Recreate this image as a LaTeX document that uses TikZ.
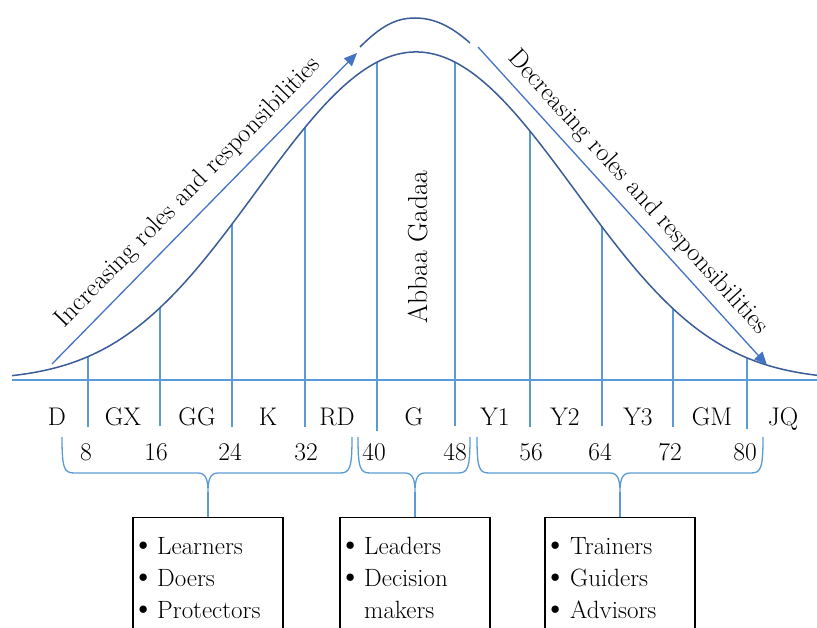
\documentclass[tikz,border=0pt]{standalone}
\usepackage{fontspec}
\setmainfont{Latin Modern Roman}
\usetikzlibrary{arrows.meta}
\definecolor{gridblue}{RGB}{91,155,213}
\definecolor{curveblue}{RGB}{58,92,152}
\definecolor{arrowblue}{RGB}{68,114,196}
% a bullet sized like the list marks of the role boxes
\newcommand{\rolebullet}{\makebox[8pt][c]{\fontsize{33}{32}\selectfont\textbullet}}
\begin{document}
\begin{tikzpicture}[x=1pt,y=-1pt,
  declare function={bell(\q)=380-328*exp(-0.5*((\q-416)/155)^2-0.02*((\q-416)/155)^4);},
  grid/.style={gridblue, line width=1.6pt},
  bellcurve/.style={curveblue, line width=1.5pt},
  trend/.style={arrowblue, line width=1.3pt, -{Triangle[length=13pt,width=11pt]}},
  lbl/.style={font=\fontsize{25.5}{30}\selectfont, inner sep=0pt, anchor=base},
  slantlbl/.style={font=\fontsize{26}{30}\selectfont, inner sep=0pt, anchor=base},
  brace/.style={gridblue, line width=1.3pt},
  rolebox/.style={draw=black, line width=1.1pt, minimum width=150pt, minimum height=140pt, anchor=north, inner sep=0pt},
  roletext/.style={font=\fontsize{25}{32}\selectfont, inner sep=0pt, anchor=base west}
]
\useasboundingbox (0,0) rectangle (817,628);
\clip (0,0) rectangle (817,628);

% axis and age-grade dividers
\draw[grid, line width=1.4pt] (12,380) -- (817,380);
\foreach \xx/\yb in {88/427,160/426,232/427,305/427,377/431,455/426,530/427,602/426,673/427,747/429}
  \draw[grid] (\xx,\yb) -- (\xx,{bell(\xx)});

% bell curve and the cap above its peak
\draw[bellcurve] plot[domain=12:817, samples=160, smooth] (\x,{bell(\x)});
\draw[bellcurve] (360,47) .. controls (380,27) and (395,18) .. (415,18)
  .. controls (435,18) and (452,27) .. (470,43);

% trend arrows
\coordinate (incS) at (52,364);
\coordinate (incE) at (357,53);
\coordinate (decS) at (478,47);
\coordinate (decE) at (767,365);
\draw[trend] (incS) -- (incE);
\draw[trend] (decS) -- (decE);
\node[slantlbl, rotate=45.6] (inc) at (193,197) {Increasing roles and responsibilities};
\node[slantlbl, rotate=-47.7] (dec) at (633,197) {Decreasing roles and responsibilities};
\node[font=\fontsize{27.5}{30}\selectfont, inner sep=0pt, anchor=base, rotate=90] (abba) at (427,247) {Abbaa Gadaa};

% grade names
\foreach \xx/\nm in {57/D,123/GX,197/GG,268/K,337/RD,414/G,495/Y1,565/Y2,638/Y3,712/GM,783/JQ}
  \node[lbl] (g\nm) at (\xx,425) {\nm};
% ages
\foreach \xx/\ag in {86/8,156/16,230/24,306/32,374/40,455/48,531/56,600/64,670/72,745/80}
  \node[lbl] (a\ag) at (\xx,460) {\ag};

% braces grouping the grades
\foreach \xl/\xm/\xr/\k in {62/208/352/1,358/415/470/2,477/620/763/3}{
  \draw[brace] (\xl,437) .. controls (\xl,468) and (\xl+2,473) .. (\xl+12,473)
    -- (\xm-10,473) .. controls (\xm-2,473) and (\xm,480) .. (\xm,492)
    .. controls (\xm,480) and (\xm+2,473) .. (\xm+10,473)
    -- (\xr-12,473) .. controls (\xr-2,473) and (\xr,468) .. (\xr,437);
  \coordinate (tip\k) at (\xm,492);
}

% role boxes
\node[rolebox] (box1) at (208,517) {};
\node[rolebox] (box2) at (415,517) {};
\node[rolebox] (box3) at (620,517) {};
\draw[brace] (tip1) -- (box1.north);
\draw[brace] (tip2) -- (box2.north);
\draw[brace] (tip3) -- (box3.north);

\node[roletext] (r1) at (139,554) {\begin{tabular}[t]{@{}l@{\hspace{10pt}}l@{}}\rolebullet & Learners\\ \rolebullet & Doers\\ \rolebullet & Protectors\end{tabular}};
\node[roletext] (r2) at (346,554) {\begin{tabular}[t]{@{}l@{\hspace{10pt}}l@{}}\rolebullet & Leaders\\ \rolebullet & Decision\\ & makers\end{tabular}};
\node[roletext] (r3) at (551,554) {\begin{tabular}[t]{@{}l@{\hspace{11pt}}l@{}}\rolebullet & Trainers\\ \rolebullet & Guiders\\ \rolebullet & Advisors\end{tabular}};
\end{tikzpicture}
\end{document}
